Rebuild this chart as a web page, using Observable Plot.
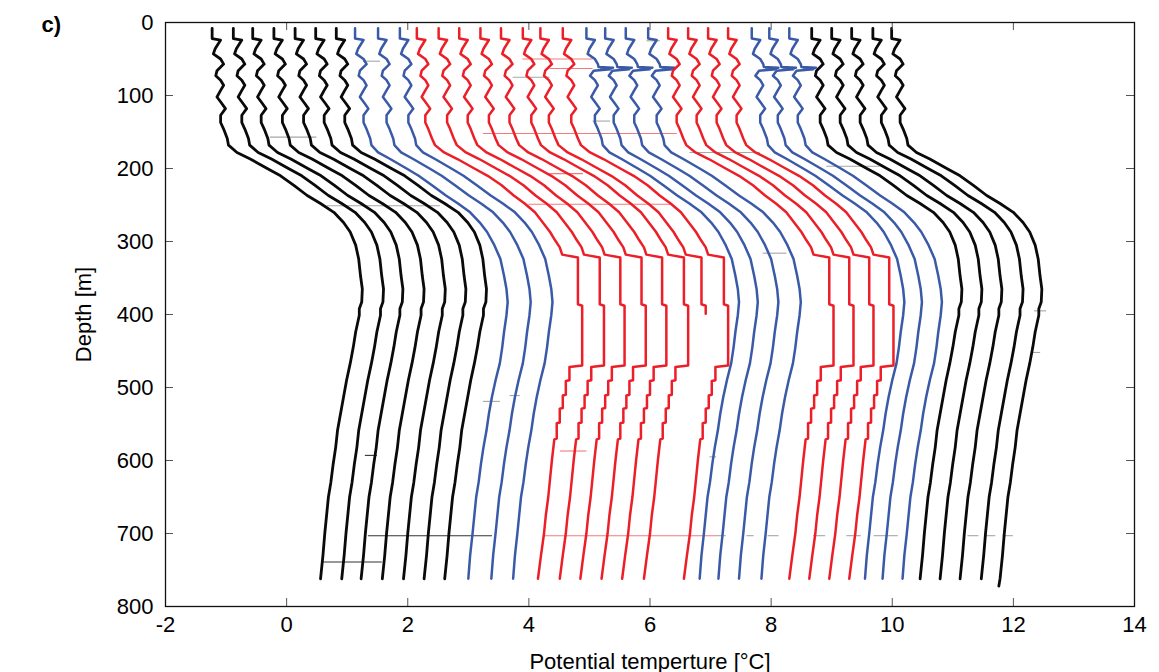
<!DOCTYPE html>
<html>
<head>
<meta charset="utf-8">
<script src="https://cdn.jsdelivr.net/npm/d3@7"></script>
<script src="https://cdn.jsdelivr.net/npm/@observablehq/plot@0.6"></script>
<style>
  html, body { margin: 0; padding: 0; background: #fff; }
  #chart { width: 1159px; height: 672px; }
</style>
</head>
<body>
<div id="chart"></div>
<script>
// ---------- data ----------
const panelLabel = "c)";
const xLabel = "Potential temperture [°C]";
const yLabel = "Depth [m]";
const xTicks = [-2, 0, 2, 4, 6, 8, 10, 12, 14];
const yTicks = [0, 100, 200, 300, 400, 500, 600, 700, 800];

// profile shapes (temperature relative to the profile's surface value)
const blackDepth = [8,22,24,36,43,50,57,66,73,79,86,93,102,111,118,127,137,146,159,168,178,187,200,210,223,237,248,260,274,287,305,324,347,365,383,392,401,424,445,467,490,513,536,559,582,604,630,650,675,700,730,762,772];
const blackShape = [0,0,0.14,0.05,0.02,0.14,0.19,0.08,0.06,0.14,0.19,0.14,0.08,0.16,0.22,0.14,0.14,0.19,0.25,0.27,0.41,0.63,0.91,1.13,1.35,1.57,1.79,2.01,2.17,2.28,2.37,2.42,2.45,2.48,2.47,2.43,2.43,2.37,2.33,2.28,2.22,2.17,2.12,2.07,2.04,2.0,1.96,1.92,1.89,1.86,1.83,1.79,1.77];

const blueDepth = [8,22,24,36,43,50,57,66,73,79,86,93,102,111,118,127,137,146,159,168,178,187,200,210,223,237,248,260,274,287,305,324,347,365,383,401,424,445,467,490,513,536,559,582,604,630,650,675,700,730,762];
const blueShape = [0,0,0.14,0.05,0.02,0.14,0.19,0.08,0.06,0.14,0.19,0.14,0.08,0.16,0.22,0.14,0.14,0.19,0.25,0.27,0.38,0.58,0.85,1.05,1.27,1.5,1.7,1.9,2.06,2.18,2.3,2.4,2.46,2.5,2.52,2.5,2.46,2.43,2.39,2.32,2.26,2.21,2.17,2.12,2.08,2.04,2.0,1.97,1.94,1.9,1.87];

const blobDepth = [8,22,24,36,43,50,57,61,62,63,64,66,73,79,86,93,102,111,118,127,137,146,159,168,178,187,200,210,223,237,248,260,274,287,305,324,347,365,383,401,424,445,467,490,513,536,559,582,604,630,650,675,700,730,762];
const blobShape = [0,0,0.14,0.05,0.02,0.14,0.19,0.2,0.44,0.24,0.4,0.12,0.06,0.14,0.19,0.14,0.08,0.16,0.22,0.14,0.14,0.19,0.25,0.27,0.38,0.58,0.85,1.05,1.27,1.5,1.7,1.9,2.06,2.18,2.3,2.4,2.46,2.5,2.52,2.5,2.46,2.43,2.39,2.32,2.26,2.21,2.17,2.12,2.08,2.04,2.0,1.97,1.94,1.9,1.87];

const redDepth = [8,22,24,36,43,50,57,66,73,79,86,93,102,111,118,127,137,146,159,168,178,187,200,210,223,237,248,260,274,287,298,308,318,322,386,388,399,470,472,490,491,510,511,528,529,548,549,570,571,600,625,650,675,700,730,762];
const redShape = [0,0,0.14,0.05,0.02,0.14,0.19,0.08,0.06,0.14,0.19,0.14,0.08,0.16,0.22,0.14,0.14,0.19,0.25,0.3,0.45,0.67,0.95,1.17,1.4,1.6,1.78,1.95,2.08,2.2,2.28,2.36,2.4,2.66,2.66,2.73,2.73,2.73,2.52,2.52,2.46,2.46,2.41,2.41,2.36,2.36,2.31,2.31,2.27,2.23,2.2,2.17,2.13,2.1,2.05,2.0];

// groups of profiles, left to right
const groupColor = ["black", "blue", "red", "blue", "red", "blue", "black"];
const groupShape = ["black", "blue", "red", "blob", "red", "blob", "black"];
const groupOffsets = [
  [-1.23, -0.88, -0.56, -0.21, 0.14, 0.48, 0.82],
  [1.13, 1.51, 1.87],
  [2.15, 2.51, 2.85, 3.2, 3.54, 3.9, 4.19, 4.56],
  [4.95, 5.26, 5.6, 5.97],
  [6.3, 6.63, 6.96, 7.29],
  [7.68, 7.97, 8.3],
  [8.67, 9.0, 9.33, 9.68, 9.99]
];
const groupEnds = [
  [762, 762, 762, 762, 762, 762, 762],
  [762, 762, 762],
  [762, 762, 762, 762, 762, 762, 399, 762],
  [762, 762, 762, 762],
  [762, 762, 762, 762],
  [762, 762, 762],
  [762, 762, 762, 762, 772]
];

// thin spike lines in the record
const spikeDepth = [703, 739, 703, 703, 703, 703, 703, 703, 703, 703, 703, 703, 587, 593, 519, 511, 53, 157, 251, 152, 75, 50, 63, 135, 178, 207, 249, 197, 316, 595, 25, 395, 452];
const spikeFrom  = [1.35, 0.61, 4.24, 7.1, 7.6, 7.95, 8.7, 9.25, 9.7, 11.25, 11.55, 11.83, 4.52, 1.3, 3.25, 3.69, 1.27, -0.27, 0.67, 3.25, 3.74, 3.9, 4.35, 5.06, 6.66, 4.35, 4.0, 8.92, 7.87, 6.99, 5.95, 12.35, 12.3];
const spikeTo    = [3.4, 1.58, 7.1, 7.26, 7.72, 8.13, 8.9, 9.49, 10.1, 11.43, 11.71, 12.0, 4.96, 1.5, 3.53, 3.86, 1.55, 0.5, 2.54, 6.45, 4.35, 5.06, 5.06, 5.35, 7.82, 4.9, 6.38, 9.8, 8.26, 7.1, 6.17, 12.55, 12.45];
const spikeKind  = ["k","k","r","g","g","g","g","g","g","g","g","g","r","k","g","g","g","g","g","r","g","r","r","g","g","r","r","g","g","g","g","g","g"];

// ---------- build ----------
const colorOf = {black: "#0a0a0a", blue: "#3a5aa8", red: "#ec1f28"};
const thinOf = {k: "#333333", r: "#f27a7a", g: "#a6a6a6"};
const shapes = {
  black: [blackDepth, blackShape],
  blue: [blueDepth, blueShape],
  blob: [blobDepth, blobShape],
  red: [redDepth, redShape]
};

const points = [];
let pid = 0;
groupOffsets.forEach((offs, g) => {
  const [dArr, sArr] = shapes[groupShape[g]];
  offs.forEach((o, k) => {
    const end = groupEnds[g][k];
    dArr.forEach((d, i) => {
      if (d <= end) points.push({id: pid, color: groupColor[g], d, t: o + sArr[i]});
    });
    pid++;
  });
});

const spikes = spikeDepth.map((d, i) => ({d, t1: spikeFrom[i], t2: spikeTo[i], kind: spikeKind[i]}));
const xInner = xTicks.slice(1, -1);
const yInner = yTicks.slice(1, -1);

const W = 1159, H = 672, mT = 22, mR = 25, mB = 66, mL = 165;
const plotW = W - mL - mR, plotH = H - mT - mB;

const chart = Plot.plot({
  width: W, height: H,
  marginTop: mT, marginRight: mR, marginBottom: mB, marginLeft: mL,
  style: {fontFamily: '"Liberation Sans", Arial, Helvetica, sans-serif', fontSize: "22px", color: "#000", background: "#fff", overflow: "visible"},
  x: {domain: [-2, 14], ticks: xTicks, tickFormat: d => String(d), tickSize: 0, tickPadding: 10,
      label: xLabel, labelAnchor: "center", labelOffset: 62, labelArrow: "none"},
  y: {domain: [0, 800], reverse: true, ticks: yTicks, tickFormat: d => String(d), tickSize: 0, tickPadding: 12,
      label: yLabel, labelAnchor: "center", labelOffset: 90, labelArrow: "none"},
  marks: [
    Plot.ruleY(spikes, {y: "d", x1: "t1", x2: "t2", stroke: d => thinOf[d.kind], strokeWidth: 1.1}),
    Plot.line(points.filter(p => p.color === "black"), {x: "t", y: "d", z: "id", stroke: colorOf.black, strokeWidth: 2.8, curve: "linear"}),
    Plot.line(points.filter(p => p.color === "blue"), {x: "t", y: "d", z: "id", stroke: colorOf.blue, strokeWidth: 2.5, curve: "linear"}),
    Plot.line(points.filter(p => p.color === "red"), {x: "t", y: "d", z: "id", stroke: colorOf.red, strokeWidth: 2.5, curve: "linear"}),
    Plot.ruleX(xInner, {x: d => d, insetTop: plotH - 8, stroke: "#555", strokeWidth: 1}),
    Plot.ruleX(xInner, {x: d => d, insetBottom: plotH - 8, stroke: "#555", strokeWidth: 1}),
    Plot.ruleY(yInner, {y: d => d, insetRight: plotW - 8, stroke: "#555", strokeWidth: 1}),
    Plot.ruleY(yInner, {y: d => d, insetLeft: plotW - 8, stroke: "#555", strokeWidth: 1}),
    Plot.frame({stroke: "#111", strokeWidth: 1.3}),
    Plot.text([panelLabel], {frameAnchor: "top-left", text: d => d, dx: -124, dy: -6, fontSize: 22, fontWeight: "bold", textAnchor: "start"})
  ]
});
document.getElementById("chart").appendChild(chart);
</script>
</body>
</html>
